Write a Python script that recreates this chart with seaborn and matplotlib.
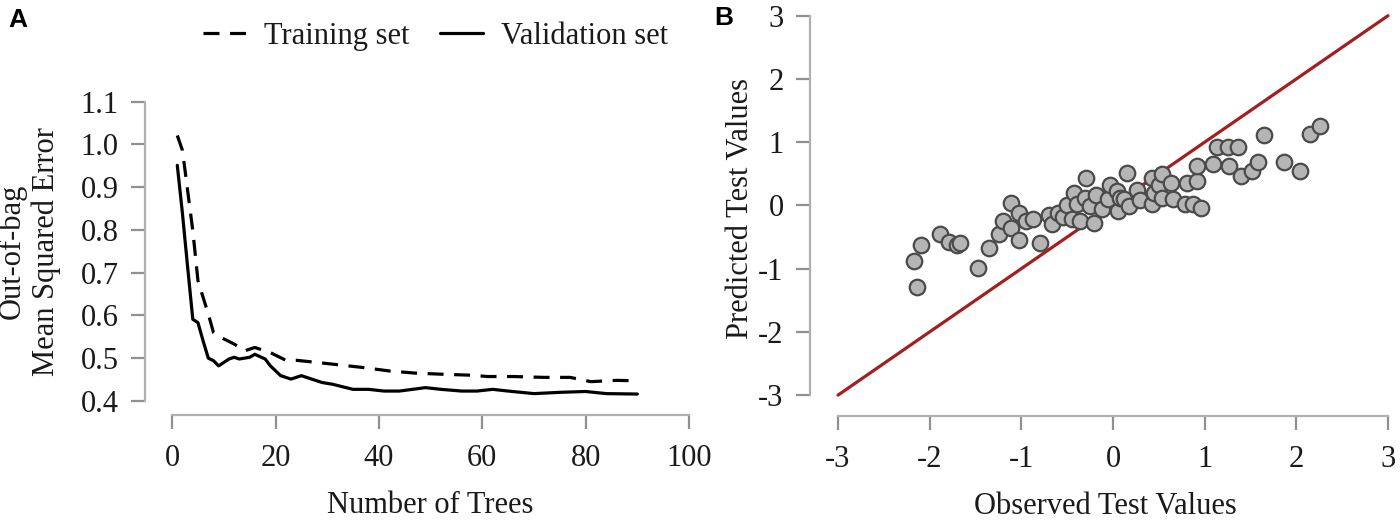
import matplotlib
matplotlib.use("Agg")
import matplotlib.pyplot as plt
import seaborn as sns
import numpy as np

# ---------------- data ----------------
train_trees = [1, 2, 3, 4, 5, 7, 8, 10, 12, 14, 16, 19, 22, 24, 28, 31, 37, 42, 47, 52, 58, 61, 66, 72, 77, 81, 86, 90]
train_mse = [1.021, 0.986, 0.892, 0.798, 0.681, 0.603, 0.56, 0.545, 0.533, 0.517, 0.525, 0.513, 0.495, 0.495,
             0.49, 0.486, 0.478, 0.47, 0.465, 0.4625, 0.46, 0.457, 0.457, 0.455, 0.455, 0.445, 0.448, 0.447]

val_trees = [1, 2, 3, 4, 5, 6, 7, 8, 9, 11, 12, 13, 15, 16, 18, 19, 21, 23, 25, 27, 29, 31, 35, 38, 41, 44,
             49, 52, 56, 59, 62, 65, 70, 75, 80, 84, 90]
val_mse = [0.951, 0.838, 0.713, 0.591, 0.583, 0.54, 0.50, 0.494, 0.482, 0.498, 0.502, 0.498, 0.502, 0.509,
           0.498, 0.482, 0.459, 0.451, 0.459, 0.451, 0.443, 0.439, 0.427, 0.427, 0.423, 0.423, 0.431, 0.427,
           0.423, 0.423, 0.427, 0.423, 0.417, 0.42, 0.422, 0.417, 0.416]

observed = [-2.17, -2.14, -2.09, -1.89, -1.79, -1.70, -1.67, -1.47, -1.35, -1.24, -1.20, -1.11, -1.11, -1.02,
            -1.02, -0.95, -0.87, -0.80, -0.70, -0.67, -0.60, -0.55, -0.50, -0.45, -0.43, -0.39, -0.36, -0.30,
            -0.29, -0.25, -0.21, -0.18, -0.12, -0.05, -0.03, 0.04, 0.06, 0.08, 0.12, 0.15, 0.17, 0.26, 0.30,
            0.43, 0.43, 0.45, 0.50, 0.54, 0.54, 0.63, 0.65, 0.79, 0.81, 0.87, 0.92, 0.92, 0.96, 1.09, 1.14,
            1.25, 1.27, 1.36, 1.40, 1.52, 1.58, 1.65, 1.87, 2.04, 2.15, 2.26]
predicted = [-0.88, -1.29, -0.63, -0.46, -0.58, -0.63, -0.59, -0.99, -0.67, -0.46, -0.25, 0.04, -0.35, -0.54,
             -0.12, -0.25, -0.22, -0.59, -0.15, -0.30, -0.12, -0.18, 0.00, -0.22, 0.20, 0.02, -0.25, 0.12,
             0.44, -0.01, -0.28, 0.17, -0.06, 0.10, 0.33, 0.23, -0.09, 0.12, 0.10, 0.52, -0.01, 0.25, 0.08,
             0.44, 0.02, 0.20, 0.32, 0.49, 0.12, 0.36, 0.10, 0.02, 0.36, 0.02, 0.39, 0.62, -0.04, 0.65, 0.92,
             0.92, 0.62, 0.92, 0.47, 0.55, 0.69, 1.11, 0.68, 0.55, 1.13, 1.26]

identity = [-3, 3]

trees_ticks = [0, 20, 40, 60, 80, 100]
mse_ticks = [0.4, 0.5, 0.6, 0.7, 0.8, 0.9, 1.0, 1.1]
value_ticks = [-3, -2, -1, 0, 1, 2, 3]

# ---------------- style ----------------
sns.set_theme(style="white")
plt.rcParams["font.family"] = ["Liberation Serif", "DejaVu Serif"]
plt.rcParams["axes.unicode_minus"] = False
TXT = "#1a1a1a"
AXC = "#b0b0b0"
FS = 22

fig = plt.figure(figsize=(14, 5.22), dpi=100)
axA = fig.add_axes([0.1036, 0.2050, 0.4079, 0.6272])
axB = fig.add_axes([0.5786, 0.2031, 0.4214, 0.7931])

# ---------------- panel A ----------------
sns.lineplot(x=train_trees, y=train_mse, ax=axA, color="black", lw=2.3, label="Training set")
sns.lineplot(x=val_trees, y=val_mse, ax=axA, color="black", lw=2.3, label="Validation set")
axA.lines[0].set_linestyle((0, (5, 3.3)))
axA.get_legend().remove()
axA.set_xlim(-5.24, 105.24)
axA.set_ylim(0.367, 1.133)
axA.set_xticks(trees_ticks)
axA.set_yticks(mse_ticks)
axA.set_xticklabels([str(t) for t in trees_ticks])
axA.set_yticklabels([f"{t:.1f}" for t in mse_ticks])
axA.spines["left"].set_bounds(0.4, 1.1)
axA.spines["bottom"].set_bounds(0, 100)
axA.set_xlabel("Number of Trees", fontsize=FS, color=TXT, labelpad=13)
axA.set_ylabel("Out-of-bag\nMean Squared Error", fontsize=FS, color=TXT, labelpad=14, linespacing=1.2)

handles, labels = axA.get_legend_handles_labels()
fig.legend(handles, labels, loc="center", bbox_to_anchor=(0.311, 0.931), ncol=2, frameon=False,
           fontsize=FS, handlelength=1.4, handletextpad=0.6, columnspacing=1.0, labelcolor=TXT)

# ---------------- panel B ----------------
sns.lineplot(x=identity, y=identity, ax=axB, color="#a31f1f", lw=2.3)
sns.scatterplot(x=observed, y=predicted, ax=axB, s=125, color="#b5b5b5", edgecolor="#4a4a4a",
                linewidth=1.6, zorder=3)
axB.set_xlim(-3.305, 3.131)
axB.set_ylim(-3.33, 3.217)
axB.set_xticks(value_ticks)
axB.set_yticks(value_ticks)
axB.set_xticklabels([str(t) for t in value_ticks])
axB.set_yticklabels([str(t) for t in value_ticks])
axB.spines["left"].set_bounds(-3, 3)
axB.spines["bottom"].set_bounds(-3, 3)
axB.set_xlabel("Observed Test Values", fontsize=FS, color=TXT, labelpad=13)
axB.set_ylabel("Predicted Test Values", fontsize=FS, color=TXT, labelpad=2)

for ax in (axA, axB):
    for s in ("top", "right"):
        ax.spines[s].set_visible(False)
    for s in ("left", "bottom"):
        ax.spines[s].set_color(AXC)
        ax.spines[s].set_linewidth(1.6)
    ax.tick_params(axis="both", which="major", direction="out", length=10, width=1.6, color="#909090",
                   labelsize=FS, labelcolor=TXT, left=True, bottom=True)
    ax.tick_params(axis="y", pad=9)
    ax.tick_params(axis="x", pad=11)
    ax.grid(False)

fig.text(0.006, 0.962, "A", fontsize=19, fontweight="bold", family=["Liberation Sans", "DejaVu Sans"],
         va="center", ha="left", color="black")
fig.text(0.510, 0.966, "B", fontsize=19, fontweight="bold", family=["Liberation Sans", "DejaVu Sans"],
         va="center", ha="left", color="black")

fig.savefig("out.png", dpi=100, facecolor="white")
